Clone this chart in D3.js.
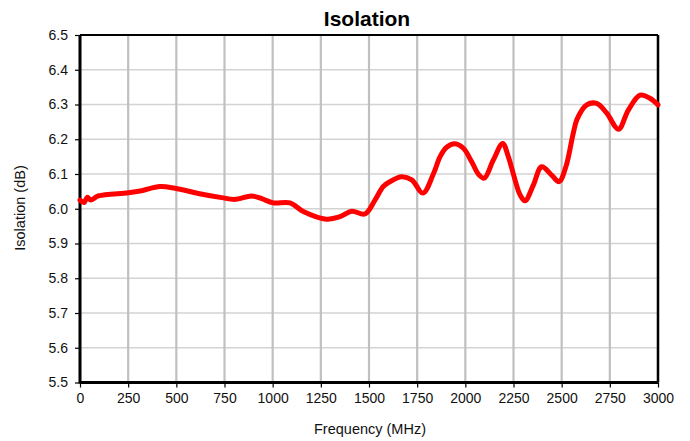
<!DOCTYPE html>
<html><head><meta charset="utf-8">
<script src="https://cdn.jsdelivr.net/npm/d3@7"></script>
<style>body{margin:0;background:#fff}svg{display:block;font-family:"Liberation Sans",Arial,sans-serif}</style>
</head><body><svg id="c" width="690" height="441"></svg>
<script>
const freq = [0,21,38,55,95,251,320,415,493,614,735,805,891,943,1003,1090,1159,1280,1349,1410,1479,1531,1574,1609,1669,1722,1780,1834,1869,1903,1946,1990,2033,2070,2098,2145,2194,2223,2258,2284,2310,2353,2396,2448,2486,2522,2560,2580,2630,2682,2734,2795,2846,2907,2958,3000];
const isolation = [6.025,6.018,6.033,6.025,6.037,6.046,6.052,6.064,6.059,6.044,6.032,6.027,6.037,6.029,6.017,6.017,5.992,5.970,5.977,5.993,5.985,6.025,6.064,6.078,6.092,6.083,6.045,6.100,6.150,6.177,6.187,6.174,6.135,6.098,6.088,6.140,6.188,6.150,6.083,6.040,6.023,6.068,6.121,6.097,6.078,6.121,6.217,6.258,6.299,6.303,6.275,6.229,6.284,6.327,6.318,6.299];
const xTicks = [0,250,500,750,1000,1250,1500,1750,2000,2250,2500,2750,3000];
const yTicks = [5.5,5.6,5.7,5.8,5.9,6.0,6.1,6.2,6.3,6.4,6.5];

const svg = d3.select("#c");
const L=80,R=658,T=35,B=382.5;
const x = d3.scaleLinear().domain([0,3000]).range([L,R]);
const y = d3.scaleLinear().domain([5.5,6.5]).range([B,T]);

// gridlines
svg.append("g").selectAll("line").data(yTicks).join("line")
  .attr("x1",L).attr("x2",R).attr("y1",d=>y(d)).attr("y2",d=>y(d))
  .attr("stroke","#d3d3d3").attr("stroke-width",1.5);
svg.append("g").selectAll("line").data(xTicks).join("line")
  .attr("x1",d=>x(d)).attr("x2",d=>x(d)).attr("y1",T).attr("y2",B)
  .attr("stroke","#c0c0c0").attr("stroke-width",2.2);

// border
svg.append("line").attr("x1",L).attr("x2",R).attr("y1",T).attr("y2",T).attr("stroke","#000").attr("stroke-width",2);
svg.append("line").attr("x1",R).attr("x2",R).attr("y1",T).attr("y2",B).attr("stroke","#000").attr("stroke-width",2.5);

// axes
const xa = svg.append("g").attr("transform",`translate(0,${B})`)
  .call(d3.axisBottom(x).tickValues(xTicks).tickFormat(d3.format("d")).tickSize(5).tickPadding(6));
const ya = svg.append("g").attr("transform",`translate(${L},0)`)
  .call(d3.axisLeft(y).tickValues(yTicks).tickFormat(d3.format(".1f")).tickSize(5).tickPadding(7));
[xa,ya].forEach(a=>{
  a.select(".domain").attr("stroke","#000").attr("stroke-width",3);
  a.selectAll(".tick line").attr("stroke","#000").attr("stroke-width",1.2);
  a.selectAll("text").attr("font-size",14).attr("fill","#111").attr("font-family","Liberation Sans, Arial, sans-serif");
});
xa.select(".domain").attr("d",`M${L},0H${R}`);
ya.select(".domain").attr("d",`M0,${T}V${B+1}`);

// line
svg.append("path").datum(freq.map((f,i)=>[f,isolation[i]]))
  .attr("fill","none").attr("stroke","#ff0000").attr("stroke-width",5)
  .attr("stroke-linejoin","round").attr("stroke-linecap","round")
  .attr("d",d3.line().x(d=>x(d[0])).y(d=>y(d[1])).curve(d3.curveCatmullRom.alpha(0.5)));

// titles
svg.append("text").attr("x",367).attr("y",26).attr("text-anchor","middle")
  .attr("font-size",21).attr("font-weight","bold").attr("fill","#000").text("Isolation");
svg.append("text").attr("x",370).attr("y",434).attr("text-anchor","middle")
  .attr("font-size",14.5).attr("fill","#111").text("Frequency (MHz)");
svg.append("text").attr("transform","translate(25,208) rotate(-90)").attr("text-anchor","middle")
  .attr("font-size",14.5).attr("fill","#111").text("Isolation (dB)");
</script></body></html>
